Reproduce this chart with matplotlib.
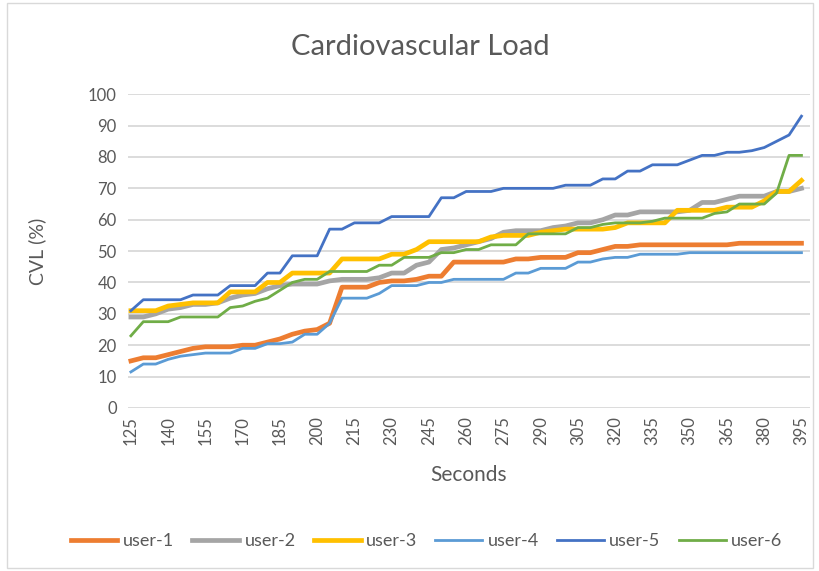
import matplotlib.pyplot as plt
from matplotlib.patches import Rectangle

seconds = list(range(125, 400, 5))

user1 = [15, 16, 16, 17, 18, 19, 19.5, 19.5, 19.5, 20, 20, 21, 22, 23.5, 24.5, 25, 27, 38.5, 38.5, 38.5,
         40, 40.5, 40.5, 41, 42, 42, 46.5, 46.5, 46.5, 46.5, 46.5, 47.5, 47.5, 48, 48, 48, 49.5, 49.5, 50.5, 51.5,
         51.5, 52, 52, 52, 52, 52, 52, 52, 52, 52.5, 52.5, 52.5, 52.5, 52.5, 52.5]
user2 = [29, 29, 30, 31.5, 32, 33, 33, 33.5, 35, 36, 36.5, 38, 39, 39.5, 39.5, 39.5, 40.5, 41, 41, 41,
         41.5, 43, 43, 45.5, 46.5, 50.5, 51, 52, 53, 54, 56, 56.5, 56.5, 56.5, 57.5, 58, 59, 59, 60, 61.5,
         61.5, 62.5, 62.5, 62.5, 62.5, 63, 65.5, 65.5, 66.5, 67.5, 67.5, 67.5, 69, 69, 70]
user3 = [31, 31, 31, 32.5, 33, 33.5, 33.5, 33.5, 37, 37, 37, 40, 40, 43, 43, 43, 43, 47.5, 47.5, 47.5,
         47.5, 49, 49, 50.5, 53, 53, 53, 53, 53, 54.5, 55, 55, 55, 56, 56.5, 57, 57, 57, 57, 57.5,
         59, 59, 59, 59, 63, 63, 63, 63, 64, 64, 64, 66, 69, 69, 72.5]
user4 = [11.5, 14, 14, 15.5, 16.5, 17, 17.5, 17.5, 17.5, 19, 19, 20.5, 20.5, 21, 23.5, 23.5, 27, 35, 35, 35,
         36.5, 39, 39, 39, 40, 40, 41, 41, 41, 41, 41, 43, 43, 44.5, 44.5, 44.5, 46.5, 46.5, 47.5, 48,
         48, 49, 49, 49, 49, 49.5, 49.5, 49.5, 49.5, 49.5, 49.5, 49.5, 49.5, 49.5, 49.5]
user5 = [31, 34.5, 34.5, 34.5, 34.5, 36, 36, 36, 39, 39, 39, 43, 43, 48.5, 48.5, 48.5, 57, 57, 59, 59,
         59, 61, 61, 61, 61, 67, 67, 69, 69, 69, 70, 70, 70, 70, 70, 71, 71, 71, 73, 73,
         75.5, 75.5, 77.5, 77.5, 77.5, 79, 80.5, 80.5, 81.5, 81.5, 82, 83, 85, 87, 93]
user6 = [23, 27.5, 27.5, 27.5, 29, 29, 29, 29, 32, 32.5, 34, 35, 37.5, 40, 41, 41, 43.5, 43.5, 43.5, 43.5,
         45.5, 45.5, 48, 48, 48, 49.5, 49.5, 50.5, 50.5, 52, 52, 52, 55.5, 55.5, 55.5, 55.5, 57.5, 57.5, 58.5, 59,
         59, 59, 59.5, 60.5, 60.5, 60.5, 60.5, 62, 62.5, 65, 65, 65, 68.5, 80.5, 80.5]

names = ["user-1", "user-2", "user-3", "user-4", "user-5", "user-6"]
series = [user1, user2, user3, user4, user5, user6]
colors = ["#ED7D31", "#A5A5A5", "#FFC000", "#5B9BD5", "#4472C4", "#70AD47"]
widths = [3.4, 3.4, 3.4, 2.0, 2.0, 2.0]

plt.rcParams["font.family"] = ["Lato", "DejaVu Sans"]

fig = plt.figure(figsize=(8.2, 5.71), dpi=100)
ax = fig.add_axes([0.156, 0.2855, 0.832, 0.5495])

for name, vals, c, w in zip(names, series, colors, widths):
    ax.plot(seconds, vals, color=c, linewidth=w, label=name)

ax.set_ylim(0, 100)
ax.set_xlim(123.8, 398.5)
ax.set_yticks(range(0, 101, 10))
ax.set_xticks(seconds[::3])
ax.tick_params(axis="x", labelrotation=90, length=0, labelsize=12, colors="#595959", pad=6)
ax.tick_params(axis="y", length=0, labelsize=12, colors="#595959", pad=8)
ax.grid(axis="y", color="#D9D9D9", linewidth=1.3)
ax.set_axisbelow(True)
for s in ax.spines.values():
    s.set_visible(False)

# title is centred on the whole chart, not the plot area
fig.text(0.512, 1 - 47 / 571, "Cardiovascular Load", fontsize=21, color="#595959",
         ha="center", va="center")
ax.set_xlabel("Seconds", fontsize=15, color="#595959", labelpad=14)
ax.set_ylabel("CVL (%)", fontsize=14, color="#595959", labelpad=30)

fig.legend(loc="center", bbox_to_anchor=(0.52, 1 - 541 / 571), ncol=6, frameon=False,
           fontsize=13, labelcolor="#595959", handlelength=2.6, handletextpad=0.3, columnspacing=1.0)

fig.patches.append(Rectangle((0.008, 0.005), 0.984, 0.99, transform=fig.transFigure,
                             fill=False, edgecolor="#D9D9D9", linewidth=1))

fig.savefig("out.png", dpi=100)
